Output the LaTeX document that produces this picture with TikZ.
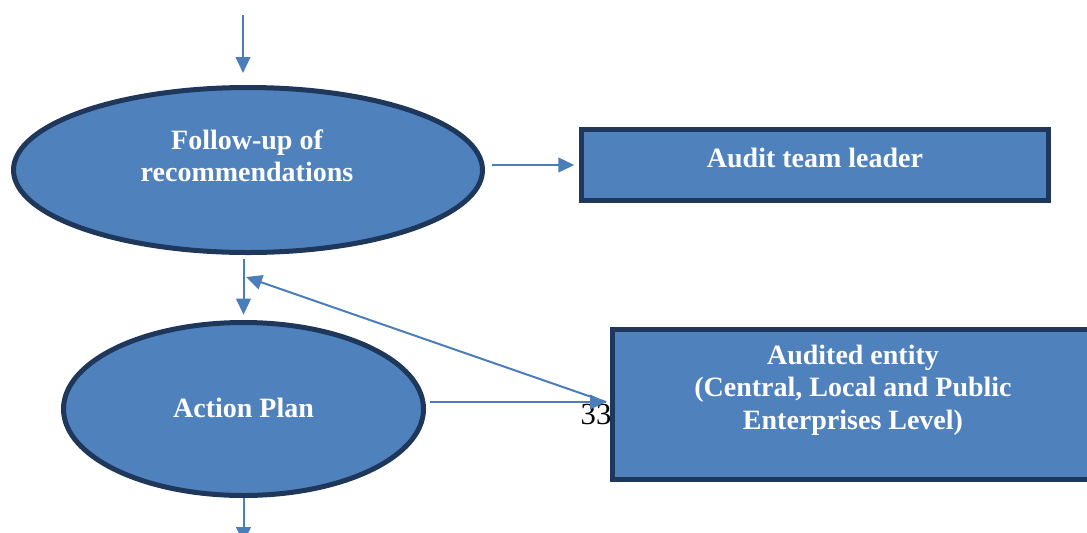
\documentclass[tikz,border=0pt]{standalone}
\usepackage{fontspec}
\setmainfont{Liberation Serif}
\usepackage{xcolor}
\usetikzlibrary{shapes.geometric, arrows.meta}

\definecolor{boxblue}{RGB}{79,129,189}
\definecolor{boxline}{RGB}{30,55,90}
\definecolor{flowblue}{RGB}{74,126,187}

\tikzset{
  stage/.style={ellipse, draw=boxline, fill=boxblue, line width=3.75pt, inner sep=0pt},
  party/.style={rectangle, draw=boxline, fill=boxblue, line width=3.75pt, inner sep=0pt},
  txt/.style={text=white, font=\bfseries\fontsize{21}{24.4}\selectfont, align=center},
  flow/.style={draw=flowblue, line width=1.5pt, -{Triangle[length=12pt, width=11pt]}}
}

\begin{document}
\begin{tikzpicture}[x=0.75pt,y=0.75pt,yscale=-1,xscale=1]
\useasboundingbox (0,0) rectangle (1087,532);
\clip (0,0) rectangle (1087,532);

%Shape: Ellipse [follow-up]
\node[stage, minimum width=351.75pt, minimum height=123.75pt] (fu) at (248,170) {};
\node[txt] (fuT) at (247,156) {Follow-up of\\recommendations};
%Shape: Ellipse [action plan]
\node[stage, minimum width=270pt, minimum height=129.75pt] (ap) at (243.5,409) {};
\node[txt] (apT) at (243.5,408) {Action Plan};

%Shape: Rectangle [team leader]
\node[party, minimum width=350.25pt, minimum height=53.25pt] (leader) at (815,165) {};
\node[txt] (leaderT) at (815,158) {Audit team leader};
%Shape: Rectangle [audited entity]
\node[party, minimum width=362.25pt, minimum height=112.5pt] (entity) at (854,404.5) {};
\node[txt] (entityT) at (853,390) {Audited entity\\(Central, Local and Public\\Enterprises Level)};

%page number left in the picture
\node[font=\fontsize{23}{26}\selectfont, inner sep=0pt] (pgno) at (596,414) {33};

\coordinate (top) at (243,15);
\coordinate (meet) at (606,402);
\coordinate (back) at (246,277);

%Straight Lines
\draw[flow, shorten >=9pt] (top) -- (top |- fu.north);
\draw[flow, shorten <=5.5pt, shorten >=3.5pt] (fu.east |- leader.west) -- (leader.west);
\draw[flow, shorten <=3pt, shorten >=4pt] (fu.south -| ap.north) -- (ap.north);
\draw[flow, shorten <=3pt] (ap.east |- meet) -- (meet);
\draw[flow] (meet) -- (back);
\draw[flow] (ap.south) -- ++(0,45);

\end{tikzpicture}
\end{document}
